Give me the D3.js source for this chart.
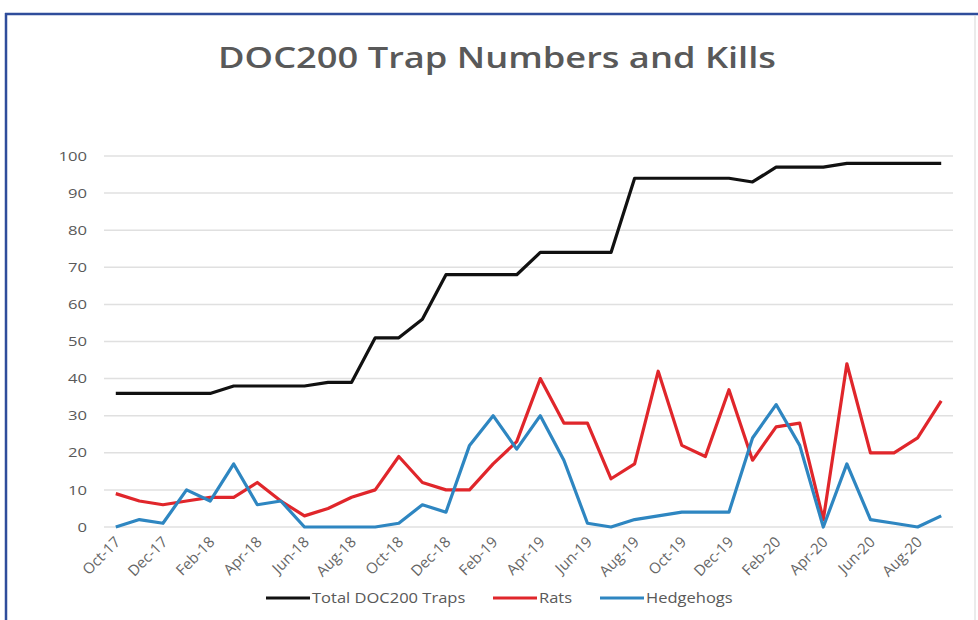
<!DOCTYPE html>
<html>
<head>
<meta charset="utf-8">
<script src="https://cdn.jsdelivr.net/npm/d3@7"></script>
<style>
  body { margin: 0; background: #fff; }
  svg { display: block; }
</style>
</head>
<body>
<div id="chart"></div>
<script>
// months Oct-17 .. Sep-20, one point each
var months = ["Oct-17","Nov-17","Dec-17","Jan-18","Feb-18","Mar-18","Apr-18","May-18","Jun-18","Jul-18","Aug-18","Sep-18",
  "Oct-18","Nov-18","Dec-18","Jan-19","Feb-19","Mar-19","Apr-19","May-19","Jun-19","Jul-19","Aug-19","Sep-19",
  "Oct-19","Nov-19","Dec-19","Jan-20","Feb-20","Mar-20","Apr-20","May-20","Jun-20","Jul-20","Aug-20","Sep-20"];

var totalTraps = [36,36,36,36,36,38,38,38,38,39,39,51,51,56,68,68,68,68,74,74,74,74,94,94,94,94,94,93,97,97,97,98,98,98,98,98];
var rats = [9,7,6,7,8,8,12,7,3,5,8,10,19,12,10,10,17,23,40,28,28,13,17,42,22,19,37,18,27,28,2,44,20,20,24,34];
var hedgehogs = [0,2,1,10,7,17,6,7,0,0,0,0,1,6,4,22,30,21,30,18,1,0,2,3,4,4,4,24,33,22,0,17,2,1,0,3];

var yTicks = [0,10,20,30,40,50,60,70,80,90,100];

var seriesNames = ["Total DOC200 Traps", "Rats", "Hedgehogs"];
var seriesColors = ["#111111", "#e0262b", "#2e86c1"];

var width = 978, height = 620;
var plot = { left: 104, right: 953, top: 156, bottom: 527 };
// the source picture is stretched sideways, so text gets a small x scale
var stretch = 1.25;

var svg = d3.select('#chart').append('svg')
    .attr('width', width)
    .attr('height', height);

// frame round the chart
svg.append('line')
    .attr('x1', 5).attr('y1', 14).attr('x2', width).attr('y2', 14)
    .style('stroke', '#2f4d9b').style('stroke-width', 2.5);
svg.append('line')
    .attr('x1', 6).attr('y1', 13).attr('x2', 6).attr('y2', height)
    .style('stroke', '#2f4d9b').style('stroke-width', 2.5);
svg.append('line')
    .attr('x1', 975).attr('y1', 16).attr('x2', 975).attr('y2', height)
    .style('stroke', '#e4e4e4').style('stroke-width', 1.5);

svg.append('text')
    .attr('transform', 'translate(497,68) scale(' + stretch + ',1)')
    .attr('text-anchor', 'middle')
    .style('font-family', 'Open Sans')
    .style('font-weight', 600)
    .style('font-size', '29px')
    .style('fill', '#595959')
    .text('DOC200 Trap Numbers and Kills');

var x = d3.scalePoint()
    .domain(months)
    .range([plot.left, plot.right])
    .padding(0.5);

var y = d3.scaleLinear()
    .domain([0, 100])
    .range([plot.bottom, plot.top]);

// gridlines
svg.append('g').selectAll('line')
    .data(yTicks)
    .enter().append('line')
    .attr('x1', plot.left).attr('x2', plot.right)
    .attr('y1', function (d) { return y(d); })
    .attr('y2', function (d) { return y(d); })
    .style('stroke', '#e0e0e0')
    .style('stroke-width', 1.5);

// y axis labels
var yAxis = d3.axisLeft(y).tickValues(yTicks).tickSize(0).tickPadding(0);
var gy = svg.append('g')
    .attr('transform', 'translate(87,0)')
    .call(yAxis);
gy.select('.domain').remove();
gy.selectAll('.tick text')
    .attr('x', 0)
    .attr('transform', 'scale(1.28,1)')
    .style('font-family', 'Open Sans')
    .style('font-size', '13px')
    .style('fill', '#595959');

// x axis labels, every second month, rotated
var xLabels = months.filter(function (d, i) { return i % 2 === 0 && i < 35; });
var xAxis = d3.axisBottom(x).tickValues(xLabels).tickSize(0).tickPadding(0);
var gx = svg.append('g')
    .attr('transform', 'translate(0,' + (plot.bottom + 12) + ')')
    .call(xAxis);
gx.select('.domain').remove();
gx.selectAll('text')
    .attr('dy', 0)
    .attr('y', 0)
    .attr('transform', 'translate(5,4) rotate(-45)')
    .attr('text-anchor', 'end')
    .style('font-family', 'Open Sans')
    .style('font-size', '15px')
    .style('fill', '#666666');

// series lines
var allSeries = [totalTraps, rats, hedgehogs];
var line = d3.line()
    .x(function (d, i) { return x(months[i]); })
    .y(function (d) { return y(d); });

allSeries.forEach(function (vals, s) {
    svg.append('path')
        .datum(vals)
        .attr('d', line)
        .style('fill', 'none')
        .style('stroke', seriesColors[s])
        .style('stroke-width', 3.2)
        .style('stroke-linejoin', 'round');
});

// legend
var legendX = [266, 493, 600];
var legend = svg.append('g');
seriesNames.forEach(function (name, s) {
    legend.append('line')
        .attr('x1', legendX[s]).attr('x2', legendX[s] + 44)
        .attr('y1', 598).attr('y2', 598)
        .style('stroke', seriesColors[s])
        .style('stroke-width', 3.2);
    legend.append('text')
        .attr('transform', 'translate(' + (legendX[s] + 46) + ',603) scale(1.18,1)')
        .style('font-family', 'Open Sans')
        .style('font-size', '14px')
        .style('fill', '#595959')
        .text(name);
});
</script>
</body>
</html>
